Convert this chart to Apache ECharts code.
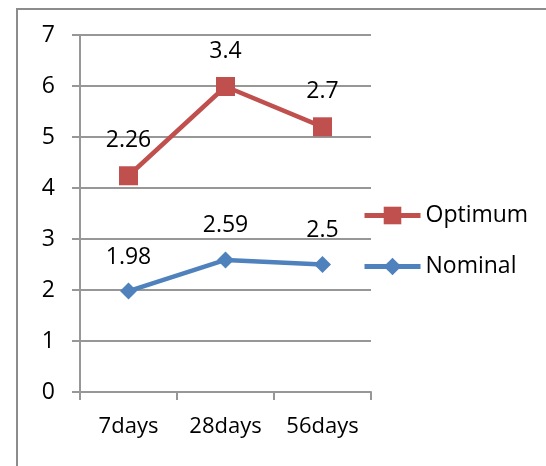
<!DOCTYPE html>
<html>
<head>
<meta charset="utf-8">
<script src="https://cdn.jsdelivr.net/npm/echarts@6/dist/echarts.min.js"></script>
<style>
  html, body { margin: 0; padding: 0; background: #fff; }
  #chart { width: 546px; height: 466px; }
</style>
</head>
<body>
<div id="chart"></div>
<script>
// Curing age categories
const categories = ['7days', '28days', '56days'];
// Stacked line values: Optimum sits on top of Nominal
const nominal = [1.98, 2.59, 2.5];
const optimum = [2.26, 3.4, 2.7];
const yTicks = [0, 1, 2, 3, 4, 5, 6, 7];

const FONT = 'Open Sans';
const FONT_SIZE = 23;
const GRID_GRAY = '#979797';
const chart = echarts.init(document.getElementById('chart'), null, { renderer: 'canvas' });

const labelStyle = {
  show: true,
  position: 'top',
  distance: 14,
  color: '#000',
  fontFamily: FONT,
  fontSize: FONT_SIZE
};

chart.setOption({
  animation: false,
  backgroundColor: '#fff',
  graphic: [{
    type: 'rect',
    shape: { x: 17, y: 9, width: 600, height: 500 },
    style: { fill: 'none', stroke: '#8c8c8c', lineWidth: 2 },
    silent: true
  }],
  grid: { left: 80, top: 35, right: 175, bottom: 74, containLabel: false },
  legend: {
    orient: 'vertical',
    left: 362,
    top: 204,
    padding: 0,
    itemWidth: 56,
    itemHeight: 22,
    itemGap: 28,
    data: ['Optimum', 'Nominal'],
    lineStyle: { width: 5 },
    textStyle: { fontFamily: FONT, fontSize: FONT_SIZE, color: '#000' }
  },
  xAxis: {
    type: 'category',
    data: categories,
    boundaryGap: true,
    axisLine: { lineStyle: { color: GRID_GRAY, width: 2 } },
    axisTick: { show: true, length: 8, alignWithLabel: false, lineStyle: { color: GRID_GRAY, width: 2 } },
    axisLabel: { interval: 0, hideOverlap: false, margin: 24, color: '#000', fontFamily: FONT, fontSize: 22 }
  },
  yAxis: {
    type: 'value',
    min: yTicks[0],
    max: yTicks[yTicks.length - 1],
    interval: 1,
    axisLine: { show: true, lineStyle: { color: GRID_GRAY, width: 2 } },
    axisTick: { show: true, length: 8, lineStyle: { color: GRID_GRAY, width: 2 } },
    axisLabel: { margin: 25, color: '#000', fontFamily: FONT, fontSize: FONT_SIZE },
    splitLine: { show: true, lineStyle: { color: GRID_GRAY, width: 2 } }
  },
  series: [
    {
      name: 'Nominal',
      type: 'line',
      stack: 'total',
      data: nominal,
      symbol: 'diamond',
      symbolSize: 17,
      color: '#4F81BD',
      lineStyle: { width: 4.5, color: '#4F81BD' },
      itemStyle: { color: '#4F81BD' },
      label: labelStyle
    },
    {
      name: 'Optimum',
      type: 'line',
      stack: 'total',
      data: optimum,
      symbol: 'rect',
      symbolSize: 19,
      color: '#C0504D',
      lineStyle: { width: 4.5, color: '#C0504D' },
      itemStyle: { color: '#C0504D' },
      label: labelStyle
    }
  ]
});
</script>
</body>
</html>
